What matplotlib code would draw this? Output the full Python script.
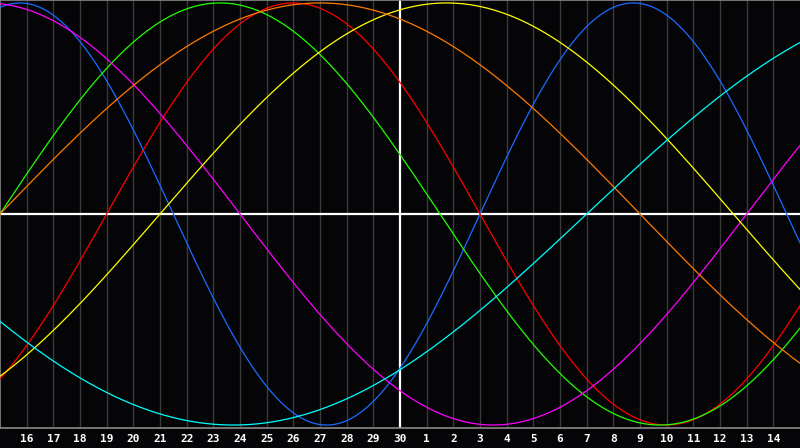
import numpy as np
import matplotlib
matplotlib.use("Agg")
from matplotlib import pyplot as plt

# day labels under the grid lines (grid line k=1..29)
day_labels = ["16", "17", "18", "19", "20", "21", "22", "23", "24", "25", "26", "27", "28", "29", "30",
              "1", "2", "3", "4", "5", "6", "7", "8", "9", "10", "11", "12", "13", "14"]

# cycles: length in days, day where the cycle starts (rising zero crossing), colour
cycle_len = [23, 28, 33, 38, 43, 48, 53]
cycle_start = [18, 4, 0, -10, 6, 0, 22]
cycle_col = ["#1a6cff", "#ff0000", "#22ff00", "#ff00ff", "#ffff00", "#ff7a00", "#00ffff"]

bg = "#050508"
fig = plt.figure(figsize=(8, 4.48), dpi=100, facecolor=bg)
ax = fig.add_axes([0, 20/448, 1, 428/448], facecolor=bg)

x = np.linspace(0, 30, 1200)
for P, s, c in zip(cycle_len, cycle_start, cycle_col):
    ax.plot(x, np.sin(2*np.pi*(x - s)/P), color=c, lw=0.9, zorder=3)

for k in range(1, 30):
    if k != 15:
        ax.axvline(k, color="#3a3a3a", lw=1.0, zorder=1)
ax.axvline(15, color="white", lw=1.6, zorder=2)
ax.axhline(0, color="white", lw=1.6, zorder=2)

ax.set_xlim(0, 30)
ax.set_ylim(-1.014, 1.014)
ax.set_xticks(range(1, 30))
ax.set_xticklabels(day_labels, color="white", fontsize=8, fontweight="bold", family="DejaVu Sans Mono")
ax.tick_params(axis="x", length=0, pad=4)
ax.set_yticks([])
for side in ["left", "top", "bottom"]:
    ax.spines[side].set_color("#8a8a8a")
    ax.spines[side].set_linewidth(1.2)
ax.spines["right"].set_visible(False)

fig.savefig("out.png", dpi=100, facecolor=bg)
